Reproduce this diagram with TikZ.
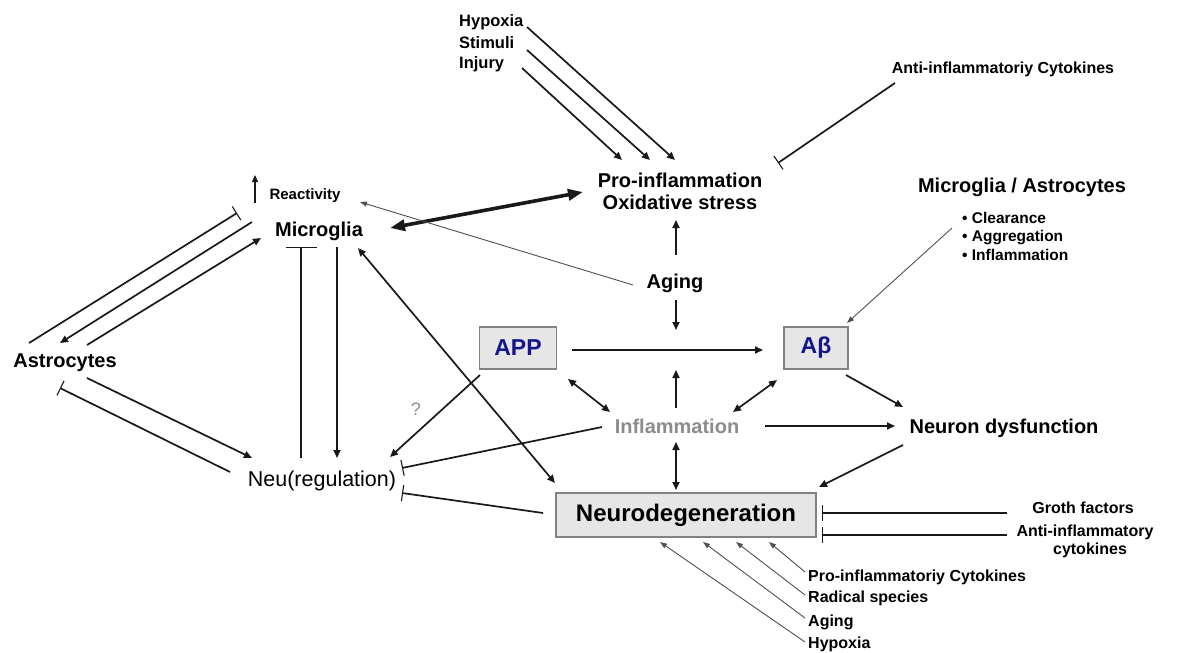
\documentclass[tikz,border=0pt]{standalone}
\usepackage{fontspec}
\setmainfont{Liberation Sans}
\usetikzlibrary{arrows.meta}
\definecolor{linec}{RGB}{25,25,25}
\definecolor{thinc}{RGB}{80,80,80}
\definecolor{boxfill}{RGB}{230,230,230}
\definecolor{boxline}{RGB}{130,130,130}
\definecolor{appblue}{RGB}{20,20,140}
\definecolor{inflgray}{RGB}{140,140,140}
\newcommand\myfs[1]{\fontsize{#1}{#1}\selectfont}
\begin{document}
\begin{tikzpicture}[x=1pt,y=-1pt,
  big/.style={inner sep=0pt, font=\bfseries\myfs{20}},
  sml/.style={inner sep=0pt, font=\bfseries\myfs{16}},
  boxn/.style={draw=boxline, line width=1.2pt, fill=boxfill, inner sep=0pt},
  arr/.style={line width=1.7pt, draw=linec, -{Triangle[length=8pt,width=7pt]}},
  darr/.style={line width=1.7pt, draw=linec, {Triangle[length=8pt,width=7pt]}-{Triangle[length=8pt,width=7pt]}},
  thinarr/.style={line width=0.9pt, draw=thinc, -{Triangle[length=7pt,width=5pt]}},
  inh/.style={line width=1.7pt, draw=linec, -{Bar[width=16pt,line width=1.1pt]}},
]
\fill[white] (0,0) rectangle (1181,653);
\useasboundingbox (0,0) rectangle (1181,653);

% ---------- nodes ----------
\node[sml, anchor=base west, font=\bfseries\myfs{16.5}] (hyp) at (459,27) {Hypoxia};
\node[sml, anchor=base west, font=\bfseries\myfs{16.5}] (stim) at (459,48) {Stimuli};
\node[sml, anchor=base west, font=\bfseries\myfs{16.5}] (inj) at (459,68) {Injury};
\node[big, align=center, font=\bfseries\fontsize{20}{22}\selectfont] (pro) at (680,191.5) {Pro-inflammation\\Oxidative stress};
\node[sml, anchor=base] (antic) at (1003,73) {Anti-inflammatoriy Cytokines};
\node[big, anchor=base] (mga) at (1022,192) {Microglia / Astrocytes};
\node[sml, anchor=base west, font=\bfseries\myfs{15.5}] (cl) at (962,223) {• Clearance};
\node[sml, anchor=base west, font=\bfseries\myfs{15.5}] (agg) at (962,241.5) {• Aggregation};
\node[sml, anchor=base west, font=\bfseries\myfs{15.5}] (infb) at (962,260) {• Inflammation};
\node[sml, anchor=base, font=\bfseries\myfs{15}] (react) at (305,199) {Reactivity};
\node[big, anchor=base] (micro) at (319,236) {Microglia};
\node[big, anchor=base] (astro) at (65,367) {Astrocytes};
\node[anchor=base, inner sep=0pt, font=\myfs{21.5}] (neu) at (322,486) {Neu(regulation)};
\node[big, anchor=base] (aging) at (675,288) {Aging};
\node[boxn, minimum width=77pt, minimum height=42pt, font=\bfseries\myfs{23}, text=appblue] (app) at (518,348) {APP};
\node[boxn, minimum width=64pt, minimum height=42pt, font=\bfseries\myfs{23}, text=appblue] (ab) at (816,348) {Aβ};
\node[big, anchor=base, text=inflgray] (infl) at (677,433) {Inflammation};
\node[big, anchor=base] (neudys) at (1004,433) {Neuron dysfunction};
\node[boxn, minimum width=260pt, minimum height=44pt, font=\bfseries\myfs{24}] (nd) at (686,515) {Neurodegeneration};
\node[anchor=base, inner sep=0pt, font=\myfs{18}, text=inflgray] (q) at (416,415) {?};
\node[sml, anchor=base] (groth) at (1083,513) {Groth factors};
\node[sml, anchor=base] (anti1) at (1085,536) {Anti-inflammatory};
\node[sml, anchor=base] (anti2) at (1090,554) {cytokines};
\node[sml, anchor=base west] (bl1) at (808,581) {Pro-inflammatoriy Cytokines};
\node[sml, anchor=base west] (bl2) at (808,602) {Radical species};
\node[sml, anchor=base west] (bl3) at (808,626) {Aging};
\node[sml, anchor=base west] (bl4) at (808,648) {Hypoxia};

\coordinate (agedn) at (676,330);
\coordinate (influp) at (676,370);

% ---------- connectors ----------
\draw[arr] ([shift={(68,0)}]hyp.base west) -- ([shift={(-5,-31.5)}]pro.center);
\draw[arr] ([shift={(68,2)}]stim.base west) -- ([shift={(-30,-31.5)}]pro.center);
\draw[arr] ([shift={(63,0)}]inj.base west) -- ([shift={(-58,-31.5)}]pro.center);
\draw[inh] ([shift={(-108,10)}]antic.base) -- ([shift={(98,-28.5)}]pro.center);
\draw[line width=3.6pt, draw=linec, {Triangle[length=15pt,width=11pt]}-{Triangle[length=15pt,width=11pt]}]
  ([shift={(71,-8)}]micro.base) -- ([shift={(-97,0.5)}]pro.center);
\draw[thinarr] ([shift={(-42,-3)}]aging.base) -- ([shift={(55,3)}]react.base);
\draw[arr] ([shift={(1,-33)}]aging.base) -- ([shift={(-4,28.5)}]pro.center);
\draw[arr] ([shift={(1,12)}]aging.base) -- (agedn);
\draw[line width=1.3pt, draw=linec, -{Triangle[length=7pt,width=6pt]}] ([shift={(-50,4)}]react.base) -- ([shift={(-50,-24)}]react.base);
\draw[thinarr] ([shift={(-10,5)}]cl.base west) -- ([shift={(31,-25)}]ab.center);
\draw[arr] ([shift={(54,2)}]app.center) -- ([shift={(-53,2)}]ab.center);
\draw[darr] ([shift={(50,31)}]app.center) -- ([shift={(-67,-21)}]infl.base);
\draw[arr] ([shift={(-1,-25)}]infl.base) -- (influp);
\draw[darr] ([shift={(-39,32)}]ab.center) -- ([shift={(56,-21)}]infl.base);
\draw[darr] ([shift={(-1,9)}]infl.base) -- ([shift={(-10,-25)}]nd.center);
\draw[arr] ([shift={(88,-7)}]infl.base) -- ([shift={(-109,-7)}]neudys.base);
\draw[arr] ([shift={(30,27)}]ab.center) -- ([shift={(-101,-26)}]neudys.base);
\draw[arr] ([shift={(-101,12)}]neudys.base) -- ([shift={(133,-28)}]nd.center);
\draw[darr] ([shift={(39,12)}]micro.base) -- ([shift={(-131,-32)}]nd.center);
\draw[arr] ([shift={(-38,27)}]app.center) -- ([shift={(68,-29)}]neu.base);
\draw[inh] ([shift={(-75,-6)}]infl.base) -- ([shift={(80,-18)}]neu.base);
\draw[inh] ([shift={(-143,-2)}]nd.center) -- ([shift={(80,7)}]neu.base);
\draw[inh] ([shift={(-36,-24)}]astro.base) -- ([shift={(-82,-23)}]micro.base);
\draw[arr] ([shift={(-67,-14)}]micro.base) -- ([shift={(-5,-24)}]astro.base);
\draw[arr] ([shift={(22,-22)}]astro.base) -- ([shift={(-58,2)}]micro.base);
\draw[line width=1.7pt, draw=linec, -{Bar[width=31pt,line width=1.3pt]}] ([shift={(-21,-28)}]neu.base) -- ([shift={(-18,11)}]micro.base);
\draw[arr] ([shift={(18,11)}]micro.base) -- ([shift={(15,-28)}]neu.base);
\draw[arr] ([shift={(22,11)}]astro.base) -- ([shift={(-70,-28)}]neu.base);
\draw[inh] ([shift={(-92,-14)}]neu.base) -- ([shift={(-5,21)}]astro.base);
\draw[inh] ([shift={(-76,0)}]groth.base) -- ([shift={(136,-2)}]nd.center);
\draw[inh] ([shift={(-78,-1)}]anti1.base) -- ([shift={(136,20)}]nd.center);
\draw[thinarr] ([shift={(-3,-9)}]bl1.base west) -- ([shift={(83,27)}]nd.center);
\draw[thinarr] ([shift={(-3,-7)}]bl2.base west) -- ([shift={(50,27)}]nd.center);
\draw[thinarr] ([shift={(-3,-8)}]bl3.base west) -- ([shift={(17,27)}]nd.center);
\draw[thinarr] ([shift={(-3,-6)}]bl4.base west) -- ([shift={(-26,27)}]nd.center);
\end{tikzpicture}
\end{document}
